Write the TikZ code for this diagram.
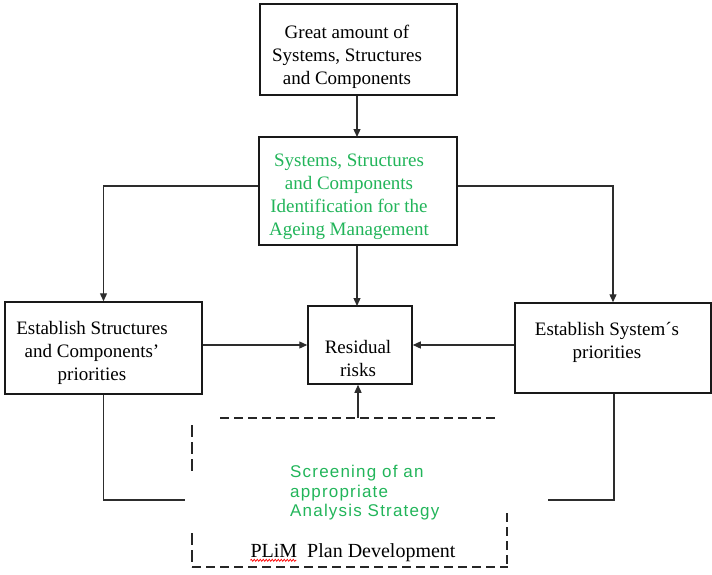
\documentclass[tikz,border=0pt]{standalone}
\usepackage{fontspec}
\setmainfont{Liberation Serif}
\newfontfamily\labelsans[LetterSpace=7]{Liberation Sans}
\usetikzlibrary{arrows.meta,decorations.pathmorphing}
\definecolor{idgreen}{RGB}{34,181,90}
\definecolor{linegray}{RGB}{45,45,45}
\tikzset{
  box/.style={draw=black!90, line width=1.5pt, fill=white, inner sep=0pt},
  txt/.style={align=center, inner sep=0pt, font=\fontsize{19}{23}\selectfont},
  arr/.style={draw=linegray, line width=1.3pt, -{Triangle[length=8pt,width=7pt]}},
  conn/.style={draw=linegray, line width=1.3pt},
  dashthick/.style={draw=black!85, line width=2.4pt, dash pattern=on 9pt off 5pt},
  dashthin/.style={draw=black!85, line width=1.6pt, dash pattern=on 12pt off 5pt},
}
\begin{document}
\begin{tikzpicture}[x=1pt,y=-1pt]
\useasboundingbox (0,0) rectangle (712,574);

% boxes
\node[box, minimum width=197pt, minimum height=91pt]  (top)   at (358.5,49.5) {};
\node[box, minimum width=198pt, minimum height=108pt] (ident) at (358,191) {};
\node[box, minimum width=197pt, minimum height=92pt]  (left)  at (103.5,348) {};
\node[box, minimum width=196pt, minimum height=90pt]  (right) at (613,348) {};
\node[box, minimum width=104pt, minimum height=78pt]  (resid) at (360,345) {};

% box texts
\node[txt] (toptext) at (347,57) {Great amount of\\Systems, Structures\\and Components};
\node[txt, text=idgreen] (identtext) at (349,197) {Systems, Structures\\and Components\\Identification for the\\Ageing Management};
\node[txt] (lefttext) at (92,353) {Establish Structures\\and Components'\\priorities};
\node[txt] (righttext) at (607,342) {Establish System´s\\priorities};
\node[txt] (residtext) at (358,358) {Residual\\risks};

% connectors between boxes
\draw[arr] (top.south -| 357,0) -- (357,137);
\draw[arr] (ident.west |- 0,186) -| (left.north);
\draw[arr] (ident.east |- 0,186) -| (right.north);
\draw[arr] (ident.south -| 357,0) -- (357,306);
\draw[arr] (left.east |- resid.west) -- (resid.west);
\draw[arr] (right.west |- resid.east) -- (resid.east);

% lines leaving the side boxes
\coordinate (lend) at (185,500);
\coordinate (rend) at (548,500);
\draw[conn] (left.south) |- (lend);
\draw[conn] (right.south -| 614,0) |- (rend);

% dashed frame of the strategy block
\coordinate (dtl) at (220,418);
\coordinate (dtr) at (499,418);
\coordinate (dtop) at (358,418);
\draw[dashthick] (dtl) -- (dtr);
\draw[dashthin] (192,425) -- (192,472);
\draw[dashthin] (192,533) -- (192,567);
\draw[dashthick] (192,567) -- (508,567);
\draw[dashthick] (507,513) -- (507,567);
\draw[arr] (dtop) -- (dtop |- resid.south);

% strategy texts
\node[align=left, anchor=west, inner sep=0pt, text=idgreen,
      font=\labelsans\fontsize{17}{19.5}\selectfont] (screen) at (290,493)
      {Screening of an\\appropriate\\Analysis Strategy};
\node[inner sep=0pt, font=\fontsize{20}{22}\selectfont] (plim) at (353,553) {PLiM\ \ Plan Development};
\draw[red, line width=0.7pt, decorate, decoration={snake, amplitude=1pt, segment length=3pt}]
  (plim.south west) ++(0,-2) -- ++(46,0);
\end{tikzpicture}
\end{document}
